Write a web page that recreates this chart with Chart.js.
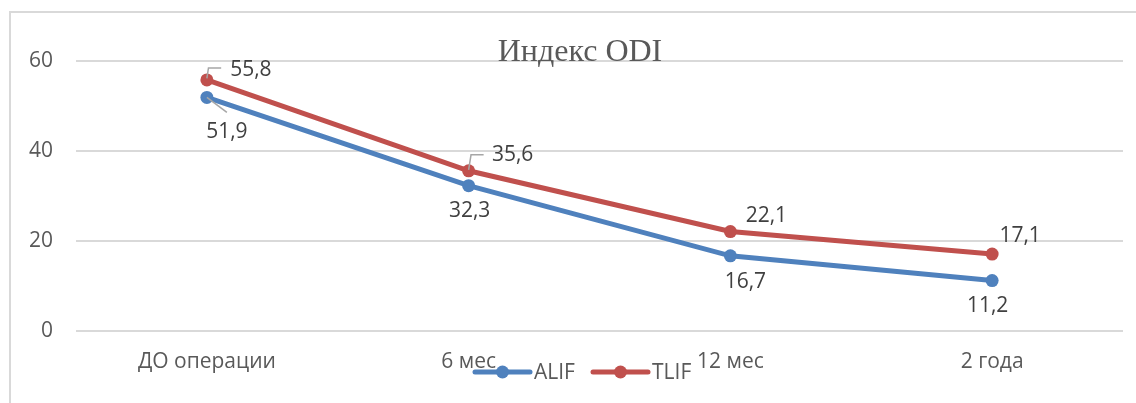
<!DOCTYPE html>
<html>
<head>
<meta charset="utf-8">
<script src="https://cdn.jsdelivr.net/npm/chart.js@4/dist/chart.umd.min.js"></script>
<style>
  html, body { margin: 0; padding: 0; background: #fff; }
  #wrap { width: 1136px; height: 403px; position: relative; }
</style>
</head>
<body>
<div id="wrap"><canvas id="myChart"></canvas></div>
<script>
// chart data
const categories = ['ДО операции', '6 мес', '12 мес', '2 года'];
const alifValues = [51.9, 32.3, 16.7, 11.2];
const tlifValues = [55.8, 35.6, 22.1, 17.1];
const yTicks = [0, 20, 40, 60];
const chartTitle = 'Индекс ODI';

// where each value label sits, relative to its point (px)
const labelOffsets = [
    [[20, 34.5], [1, 25], [15, 26], [-4.5, 25]],      // ALIF
    [[44, -10], [44, -15.5], [36, -16], [28, -18]]    // TLIF
];
// small leader lines, relative to the point
const leaders = [
    [[[0, 0], [20, 15]], null, null, null],
    [[[0, -1.5], [1.6, -12], [14.3, -12]], [[0, -1], [2.4, -16], [15, -16]], null, null]
];

const BLUE = '#4F81BD';
const RED = '#C0504D';
const FONT = "'Open Sans', 'Noto Sans', sans-serif";
const FSIZE = 21;

// border round the whole chart
const frame = {
    id: 'frame',
    beforeDraw(chart) {
        const ctx = chart.ctx;
        ctx.save();
        ctx.strokeStyle = '#d9d9d9';
        ctx.lineWidth = 2;
        ctx.strokeRect(10, 12, 1300, 600);
        ctx.restore();
    }
};

// value labels, title and legend drawn on top
const extras = {
    id: 'extras',
    afterDatasetsDraw(chart) {
        const ctx = chart.ctx;
        ctx.save();

        // leader lines
        ctx.strokeStyle = '#a6a6a6';
        ctx.lineWidth = 1.5;
        chart.data.datasets.forEach((ds, di) => {
            const meta = chart.getDatasetMeta(di);
            meta.data.forEach((pt, i) => {
                const l = leaders[di][i];
                if (!l) return;
                ctx.beginPath();
                l.forEach((p, k) => {
                    if (k === 0) ctx.moveTo(pt.x + p[0], pt.y + p[1]);
                    else ctx.lineTo(pt.x + p[0], pt.y + p[1]);
                });
                ctx.stroke();
            });
        });

        // value labels
        ctx.font = FSIZE + 'px ' + FONT;
        ctx.fillStyle = '#404040';
        ctx.textAlign = 'center';
        ctx.textBaseline = 'middle';
        chart.data.datasets.forEach((ds, di) => {
            const meta = chart.getDatasetMeta(di);
            meta.data.forEach((pt, i) => {
                const off = labelOffsets[di][i];
                const txt = ds.data[i].toFixed(1).replace('.', ',');
                ctx.fillText(txt, pt.x + off[0], pt.y + off[1]);
            });
        });

        // title
        ctx.font = "32px 'Liberation Serif', 'Times New Roman', serif";
        ctx.fillStyle = '#595959';
        ctx.textAlign = 'center';
        ctx.textBaseline = 'alphabetic';
        ctx.fillText(chartTitle, 580, 61);

        // legend
        const items = [{x: 475}, {x: 593}];
        ctx.font = FSIZE + 'px ' + FONT;
        ctx.textAlign = 'left';
        ctx.textBaseline = 'middle';
        chart.data.datasets.forEach((ds, di) => {
            const x0 = items[di].x, y0 = 372;
            ctx.strokeStyle = ds.borderColor;
            ctx.lineWidth = 5;
            ctx.lineCap = 'round';
            ctx.beginPath();
            ctx.moveTo(x0, y0);
            ctx.lineTo(x0 + 55, y0);
            ctx.stroke();
            ctx.fillStyle = ds.borderColor;
            ctx.beginPath();
            ctx.arc(x0 + 27.5, y0, 6.5, 0, Math.PI * 2);
            ctx.fill();
            ctx.fillStyle = '#595959';
            ctx.fillText(ds.label, x0 + 59, y0 + 1);
        });
        ctx.restore();
    }
};

let ctx = document.getElementById('myChart').getContext('2d');
let chart = new Chart(ctx, {
    type: 'line',
    data: {
        labels: categories,
        datasets: [{
            label: 'ALIF',
            data: alifValues,
            borderColor: BLUE,
            backgroundColor: BLUE,
            borderWidth: 5,
            pointRadius: 6.5,
            pointHoverRadius: 6.5,
            pointBorderWidth: 0,
            tension: 0,
            order: 1
        },
        {
            label: 'TLIF',
            data: tlifValues,
            borderColor: RED,
            backgroundColor: RED,
            borderWidth: 5,
            pointRadius: 6.5,
            pointHoverRadius: 6.5,
            pointBorderWidth: 0,
            tension: 0,
            order: 0
        }]
    },
    options: {
        responsive: true,
        maintainAspectRatio: false,
        animation: false,
        events: [],
        layout: { padding: { top: 61, right: 13, bottom: 0, left: 0 } },
        plugins: {
            legend: { display: false },
            title: { display: false },
            tooltip: { enabled: false }
        },
        scales: {
            x: {
                offset: true,
                grid: { display: false, drawTicks: false },
                border: { display: false },
                ticks: {
                    color: '#595959',
                    font: { family: FONT, size: FSIZE },
                    padding: 18,
                    maxRotation: 0
                },
                afterFit(axis) { axis.height = 72; }
            },
            y: {
                min: 0,
                max: 60,
                afterBuildTicks(axis) { axis.ticks = yTicks.map(v => ({ value: v })); },
                grid: { color: '#d9d9d9', lineWidth: 2, drawTicks: false },
                border: { display: false },
                ticks: {
                    color: '#595959',
                    font: { family: FONT, size: FSIZE },
                    padding: 23
                },
                afterFit(axis) { axis.width = 76; }
            }
        }
    },
    plugins: [frame, extras]
});
</script>
</body>
</html>
